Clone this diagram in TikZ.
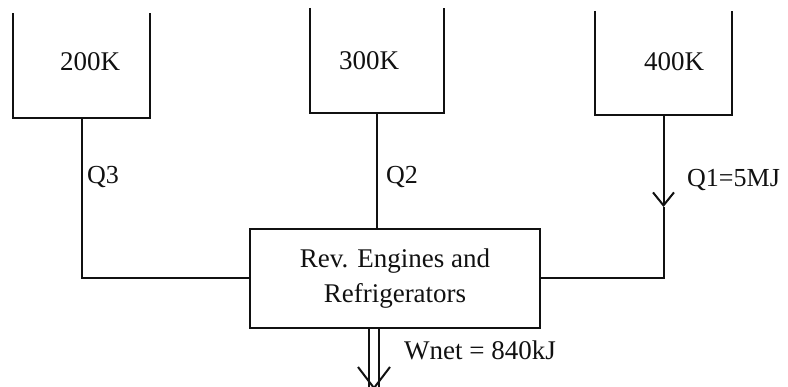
\documentclass[tikz,border=0pt]{standalone}
\usepackage{fontspec}
\setmainfont{Liberation Serif}
\usetikzlibrary{arrows.meta,positioning}
\definecolor{ink}{HTML}{111111}
\tikzset{
  every node/.style={text=ink},
  wall/.style={draw=ink, line width=2pt, line join=miter},
  reservoir/.style={inner sep=0pt, minimum width=137pt, minimum height=104pt},
  reslabel/.style={inner sep=0pt, font=\fontsize{27}{30}\selectfont},
  machine/.style={draw=ink, line width=2pt, align=center,
    minimum width=290pt, minimum height=99pt, inner sep=0pt,
    font=\fontsize{27}{35}\selectfont},
  flow/.style={draw=ink, line width=2pt},
  heatin/.style={flow, -{Straight Barb[length=13pt,width=21pt,line width=2pt]}},
  work/.style={draw=ink, line width=1.8pt, double, double distance=8pt},
  qlabel/.style={inner sep=0pt, anchor=west, font=\fontsize{26}{29}\selectfont}
}
\begin{document}
\begin{tikzpicture}[x=1pt,y=-1pt]
\useasboundingbox (0,0) rectangle (788,387);

% Three reservoirs, drawn as open-topped tanks.
\node[reservoir] (cold) at (81.5,65.5) {};
\node[reservoir, minimum width=134pt, minimum height=105pt] (mid) at (377,60.5) {};
\node[reservoir] (hot) at (663.5,63) {};
\node[reslabel] (coldT) at (90,62) {200K};
\node[reslabel] (midT) at (369,61) {300K};
\node[reslabel] (hotT) at (674,62) {400K};
\foreach \r in {cold,mid,hot}
  \draw[wall] (\r.north west) -- (\r.south west) -- (\r.south east) -- (\r.north east);

% The combined reversible machine.
\node[machine] (engine) at (395,278.5) {Rev. Engines and\\Refrigerators};

% Heat streams between reservoirs and machine.
\draw[flow] (cold.south) |- (engine.west);
\node[qlabel] (q3) at (87,177) {Q3};
\draw[flow] (mid.south) -- (mid.south |- engine.north);
\node[qlabel] (q2) at (386,177) {Q2};
\coordinate (q1tip) at (hot.south |- 0,207);
\draw[heatin] (hot.south) -- (q1tip);
\draw[flow] (q1tip) |- (engine.east);
\node[qlabel] (q1) at (687,180) {Q1=5MJ};

% Net work out: double shaft with an open head.
\coordinate (wtop) at ([xshift=-21pt]engine.south);
\coordinate (wtip) at (wtop |- 0,388);
\draw[work] (wtop) -- ([yshift=-4pt]wtip);
\draw[flow] ([shift={(-16,-21)}]wtip) -- (wtip) -- ([shift={(16,-21)}]wtip);
\node[qlabel, font=\fontsize{27}{30}\selectfont] (wnet) at (404,350) {Wnet = 840kJ};

\end{tikzpicture}
\end{document}
